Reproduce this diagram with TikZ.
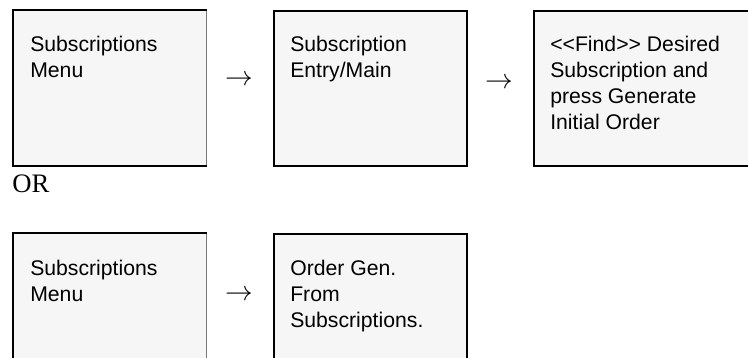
\documentclass[tikz,border=0pt]{standalone}
\usepackage{fontspec}
\setmainfont{Liberation Serif}
\setsansfont{Liberation Sans}
\usepackage{tikz}
\usepackage{xcolor}
\definecolor{boxfill}{RGB}{246,246,246}
\definecolor{edgegray}{RGB}{120,120,120}

\begin{document}
\begin{tikzpicture}[x=0.75pt,y=0.75pt,
	screen/.style={fill=boxfill,draw=black,line width=1.5pt,minimum width=144.75pt,minimum height=116.25pt,inner sep=0pt,anchor=north west},
	menu/.style={screen,draw=edgegray,line width=0.75pt},
	caption/.style={anchor=north west,inner sep=0pt,align=left,font=\sffamily\fontsize{15.9}{19.5}\selectfont},
	goes/.style={inner sep=0pt,font=\fontsize{21}{24}\selectfont}]
		\useasboundingbox (0,0) rectangle (748,357);
		\clip (0,0) rectangle (748,357);
		% first way: menu, entry screen, find
		\node[menu] (menuA) at (13,347) {};
		\draw[line width=1.5pt] (menuA.south east)--(menuA.south west)--(menuA.north west)--(menuA.north east);
		\node[screen] (entry) at (273,347) {};
		\node[screen,minimum width=180pt] (find) at (533,347) {};
		\node[caption] (menuAtext) at (30,321) {Subscriptions\\Menu};
		\node[caption] (entrytext) at (290,321) {Subscription\\Entry/Main};
		\node[caption] (findtext) at (550,321) {<\kern0pt<Find>\kern0pt> Desired\\Subscription and\\press Generate\\Initial Order};
		\node[goes] (toentry) at (239,277) {$\rightarrow$};
		\node[goes] (tofind) at (499,274) {$\rightarrow$};
		\node[anchor=base west,inner sep=0pt,font=\fontsize{20}{24}\selectfont] (or) at (12,164) {OR};
		% second way: menu, order generation
		\node[menu] (menuB) at (13,124) {};
		\draw[line width=1.5pt] (menuB.south east)--(menuB.south west)--(menuB.north west)--(menuB.north east);
		\node[screen] (ordergen) at (273,124) {};
		\node[caption] (menuBtext) at (30,97) {Subscriptions\\Menu};
		\node[caption] (ordergentext) at (290,97) {Order Gen.\\From\\Subscriptions.};
		\node[goes] (toordergen) at (239,62) {$\rightarrow$};
	\end{tikzpicture}
\end{document}
